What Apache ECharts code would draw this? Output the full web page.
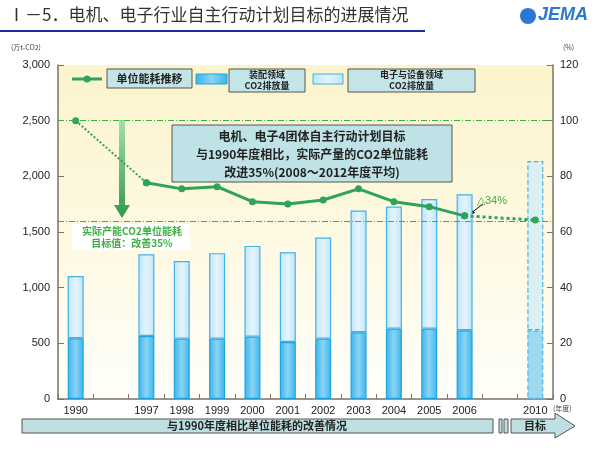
<!DOCTYPE html>
<html><head><meta charset="utf-8">
<script src="https://cdn.jsdelivr.net/npm/echarts@6/dist/echarts.min.js"></script>
<style>html,body{margin:0;padding:0;background:#fff}#c{width:600px;height:450px}</style>
</head><body><div id="c"></div>
<script>
const categories = ['1990','','1997','1998','1999','2000','2001','2002','2003','2004','2005','2006','','2010'];
const assembly =    [545,null,566,542,542,560,512,542,599,632,632,617,null,617];
const electronics = [560,null,734,698,768,815,806,908,1093,1096,1165,1222,null,1521];
const intensity =   [100,null,77.7,75.5,76.3,70.9,70.1,71.5,75.5,70.9,69.1,65.8,null,64.3];
const baseLevel = 100;
const targetLevel = 64;
const leftTicks = [0,500,1000,1500,2000,2500,3000];
const rightTicks = [0,20,40,60,80,100,120];

const F = '"Noto Sans CJK SC", "Noto Sans", sans-serif';
const green = '#2ea35a';
const darkFill = {type:'linear',x:0,y:0,x2:1,y2:0,colorStops:[{offset:0,color:'#3ab5ec'},{offset:0.5,color:'#8ad4f5'},{offset:1,color:'#3ab5ec'}]};
const lightFill = {type:'linear',x:0,y:0,x2:1,y2:0,colorStops:[{offset:0,color:'#bfe5f9'},{offset:0.5,color:'#e4f4fc'},{offset:1,color:'#bfe5f9'}]};
const lastIdx = categories.length - 1;

function barData(arr, targetFill){
  return arr.map((v,i)=> i===lastIdx ? {value:v, itemStyle:{color:targetFill, borderType:'dashed', borderColor:'#4db6e0'}} : v);
}
function pick(idx){ return intensity.map((v,i)=> idx.includes(i) ? v : null); }

const chart = echarts.init(document.getElementById('c'));
chart.setOption({
  animation:false,
  textStyle:{fontFamily:F},
  grid:{left:58,right:47,top:65,bottom:51,show:true,borderWidth:0,
    backgroundColor:{type:'linear',x:0,y:0,x2:0,y2:1,colorStops:[{offset:0,color:'#fbf4cc'},{offset:0.6,color:'#fefae6'},{offset:1,color:'#fffffb'}]}},
  xAxis:{type:'category',data:categories,boundaryGap:true,
    axisLine:{lineStyle:{color:'#7d7264',width:1.5}},
    axisTick:{show:true,inside:true,length:5,lineStyle:{color:'#7d7264'}},
    axisLabel:{color:'#222',fontSize:11,margin:6,fontFamily:'"Liberation Sans", Arial'}},
  yAxis:[
    {type:'value',min:0,max:3000,interval:500,
      axisLine:{show:true,lineStyle:{color:'#7d7264',width:1.5}},
      axisTick:{show:true,inside:true,length:6,lineStyle:{color:'#7d7264'}},
      splitLine:{show:false},
      axisLabel:{color:'#222',fontSize:11,margin:8,fontFamily:'"Liberation Sans", Arial',formatter:v=>v.toLocaleString('en-US')}},
    {type:'value',min:0,max:120,interval:20,position:'right',
      axisLine:{show:true,lineStyle:{color:'#7d7264',width:1.5}},
      axisTick:{show:true,inside:true,length:6,lineStyle:{color:'#7d7264'}},
      splitLine:{show:false},
      axisLabel:{color:'#222',fontSize:11,margin:7,fontFamily:'"Liberation Sans", Arial'}}
  ],
  series:[
    {type:'bar',stack:'co2',barWidth:16,data:barData(assembly,'#9fd9f1'),
      itemStyle:{color:darkFill,borderColor:'#1ea3de',borderWidth:1.2}},
    {type:'bar',stack:'co2',barWidth:16,data:barData(electronics,'#dcf0f4'),
      itemStyle:{color:lightFill,borderColor:'#40b3e8',borderWidth:1.2}},
    {type:'line',yAxisIndex:1,data:pick([0,2]),connectNulls:true,symbol:'circle',symbolSize:7,
      itemStyle:{color:green},lineStyle:{color:green,width:2,type:'dotted'},
      markLine:{silent:true,symbol:'none',label:{show:false},
        lineStyle:{color:'#3cb043',width:1,type:[6,2,1,2]},
        data:[{yAxis:baseLevel},{yAxis:targetLevel}]}},
    {type:'line',yAxisIndex:1,data:pick([2,3,4,5,6,7,8,9,10,11]),symbol:'circle',symbolSize:7,
      itemStyle:{color:green},lineStyle:{color:green,width:3}},
    {type:'line',yAxisIndex:1,data:pick([11,13]),connectNulls:true,symbol:'circle',symbolSize:7,
      itemStyle:{color:green},lineStyle:{color:green,width:3,type:'dotted'}}
  ],
  graphic:[
    {type:'text',left:8,top:6,style:{text:'Ⅰ－5．电机、电子行业自主行动计划目标的进展情况',font:'17px '+F,fill:'#333'}},
    {type:'line',shape:{x1:0,y1:31,x2:425,y2:31},style:{stroke:'#1c2c9c',lineWidth:2}},
    {type:'circle',shape:{cx:528,cy:16,r:8},style:{fill:'#2a78d6'}},
    {type:'text',left:538,top:6,style:{text:'JEMA',font:'italic bold 18px "Liberation Sans", Arial',fill:'#2a78d6'}},
    {type:'text',left:11,top:44,style:{text:'(万t-CO2)',font:'7px '+F,fill:'#444'}},
    {type:'text',left:563,top:44,style:{text:'(%)',font:'7px '+F,fill:'#444'}},
    // legend
    {type:'line',shape:{x1:72,y1:79,x2:102,y2:79},style:{stroke:green,lineWidth:3}},
    {type:'circle',shape:{cx:87,cy:79,r:3.5},style:{fill:green}},
    {type:'rect',shape:{x:107,y:69,width:85,height:19},style:{fill:'#c4e5e8',stroke:'#555',lineWidth:1}},
    {type:'text',x:149.5,y:78.5,style:{text:'单位能耗推移',font:'bold 11px '+F,fill:'#222',align:'center',verticalAlign:'middle'}},
    {type:'rect',shape:{x:196,y:74,width:31,height:10},style:{fill:darkFill,stroke:'#1ea3de',lineWidth:1}},
    {type:'rect',shape:{x:229,y:69,width:76,height:23},style:{fill:'#c4e5e8',stroke:'#555',lineWidth:1}},
    {type:'text',x:267,y:80.5,style:{text:'装配领域\nCO2排放量',font:'bold 9px '+F,fill:'#222',align:'center',verticalAlign:'middle',lineHeight:11}},
    {type:'rect',shape:{x:313,y:74,width:30,height:10},style:{fill:lightFill,stroke:'#40b3e8',lineWidth:1}},
    {type:'rect',shape:{x:348,y:69,width:127,height:23},style:{fill:'#c4e5e8',stroke:'#555',lineWidth:1}},
    {type:'text',x:411.5,y:80.5,style:{text:'电子与设备领域\nCO2排放量',font:'bold 9px '+F,fill:'#222',align:'center',verticalAlign:'middle',lineHeight:11}},
    // annotation box
    {type:'rect',shape:{x:172,y:125,width:280,height:57},style:{fill:'#bfe2e6',stroke:'#555',lineWidth:1}},
    {type:'text',x:312,y:154,style:{text:'电机、电子4团体自主行动计划目标\n与1990年度相比，实际产量的CO2单位能耗\n改进35%(2008～2012年度平均)',font:'bold 12px '+F,fill:'#222',align:'center',verticalAlign:'middle',lineHeight:18}},
    // green arrow
    {type:'polygon',shape:{points:[[119,120],[125,120],[125,205],[130,205],[122,218],[114,205],[119,205]]},
      style:{fill:{type:'linear',x:0,y:0,x2:0,y2:1,colorStops:[{offset:0,color:'#a8dcb0'},{offset:1,color:'#2e9a4a'}]}}},
    {type:'rect',shape:{x:72,y:224,width:118,height:26},style:{fill:'#ffffff'}},
    {type:'text',x:132,y:237,style:{text:'实际产能CO2单位能耗\n目标值：改善35%',font:'bold 10px '+F,fill:'#3cb043',align:'center',verticalAlign:'middle',lineHeight:12}},
    // delta label
    {type:'text',left:477,top:195,style:{text:'△34%',font:'11px "Liberation Sans", Arial',fill:'#3cb043'}},
    {type:'line',shape:{x1:483,y1:204,x2:471,y2:213},style:{stroke:'#111',lineWidth:1}},
    {type:'polygon',shape:{points:[[469,215],[471,209],[475,213]]},style:{fill:'#111'}},
    // bottom bar
    {type:'rect',shape:{x:22,y:419,width:471,height:14},style:{fill:'#bfe0e3',stroke:'#555',lineWidth:1}},
    {type:'text',x:257,y:426,style:{text:'与1990年度相比单位能耗的改善情况',font:'bold 11px '+F,fill:'#222',align:'center',verticalAlign:'middle'}},
    {type:'rect',shape:{x:499,y:419,width:3,height:14},style:{fill:'#bfe0e3',stroke:'#555',lineWidth:1}},
    {type:'rect',shape:{x:504,y:419,width:4,height:14},style:{fill:'#bfe0e3',stroke:'#555',lineWidth:1}},
    {type:'polygon',shape:{points:[[511,419],[555,419],[555,413],[575,426],[555,438],[555,433],[511,433]]},style:{fill:'#bfe0e3',stroke:'#555',lineWidth:1}},
    {type:'text',x:535,y:426,style:{text:'目标',font:'bold 11px '+F,fill:'#222',align:'center',verticalAlign:'middle'}},
    {type:'text',left:553,top:405,style:{text:'(年度)',font:'7px '+F,fill:'#444'}}
  ]
});
</script></body></html>
